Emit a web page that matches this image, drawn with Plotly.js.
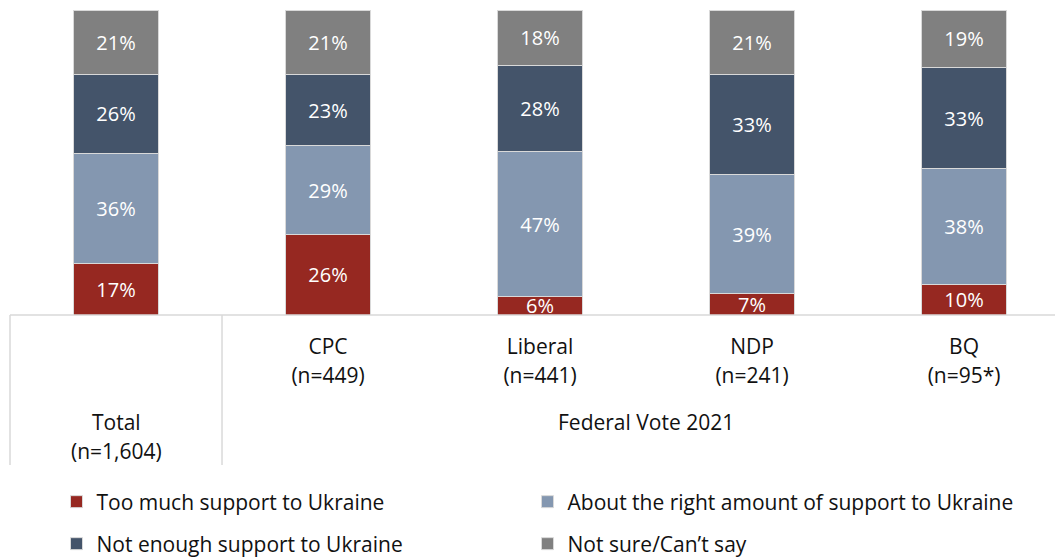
<!DOCTYPE html>
<html>
<head>
<meta charset="utf-8">
<script src="https://cdn.plot.ly/plotly-3.0.1.min.js"></script>
<style>html,body{margin:0;padding:0;background:#fff;}</style>
</head>
<body>
<div id="chart" style="width:1055px;height:558px;"></div>
<script>
// ---- data ----
const categories = ["Total", "CPC", "Liberal", "NDP", "BQ"];
const sampleSizes = ["(n=1,604)", "(n=449)", "(n=441)", "(n=241)", "(n=95*)"];
const groupLabel = "Federal Vote 2021";
const seriesNames = [
  "Too much support to Ukraine",
  "About the right amount of support to Ukraine",
  "Not enough support to Ukraine",
  "Not sure/Can\u2019t say"
];
const tooMuch   = [17, 26, 6, 7, 10];
const aboutRight = [36, 29, 47, 39, 38];
const notEnough = [26, 23, 28, 33, 33];
const notSure   = [21, 21, 18, 21, 19];
const seriesValues = [tooMuch, aboutRight, notEnough, notSure];
const seriesColors = ["#962821", "#8497B0", "#44546A", "#808080"];

const FONT = "'Open Sans', 'Noto Sans', sans-serif";
const TXT = "#111111";
const FS = 21;
const xIdx = categories.map((c, i) => i);
const legendIds = ["legend", "legend2", "legend3", "legend4"];

const traces = seriesValues.map((vals, k) => ({
  type: "bar",
  name: seriesNames[k],
  x: xIdx,
  y: vals,
  text: vals.map(v => v + "%"),
  textposition: "inside",
  insidetextanchor: "middle",
  constraintext: "none",
  textfont: {family: FONT, size: 20, color: "#ffffff"},
  marker: {color: seriesColors[k], line: {color: "#d9d9d9", width: 1}},
  legend: legendIds[k],
  hoverinfo: "skip"
}));
// empty helper trace so the second (sample-size) label axis is drawn
traces.push({type: "scatter", x: [], y: [], xaxis: "x2", yaxis: "y",
  showlegend: false, hoverinfo: "skip"});

const xr = [-0.5, 4.429];
const toPaper = v => (v - xr[0]) / (xr[1] - xr[0]);
const plotH = 558 - 10 - 243;
const pyPix = p => -(p - 315) / plotH; // pixel y -> paper y

const axisCommon = {
  range: xr, tickmode: "array", tickvals: xIdx.slice(1),
  showgrid: false, zeroline: false, showline: false, ticks: "",
  tickfont: {family: FONT, size: FS, color: TXT}, fixedrange: true
};

const legendCommon = {
  orientation: "h", xref: "container", yref: "container",
  xanchor: "left", yanchor: "middle",
  font: {family: FONT, size: FS, color: TXT},
  bgcolor: "rgba(0,0,0,0)"
};
const colX = [56.5, 527.5];
const rowY = [502, 544];

const layout = {
  width: 1055, height: 558,
  margin: {l: 10, r: 0, t: 10, b: 243},
  barmode: "stack",
  barnorm: "percent",
  bargap: 0.6,
  plot_bgcolor: "#fff", paper_bgcolor: "#fff",
  font: {family: FONT, size: FS, color: TXT},
  xaxis: Object.assign({}, axisCommon, {
    ticktext: categories.slice(1), ticklabelstandoff: 17
  }),
  xaxis2: Object.assign({}, axisCommon, {
    overlaying: "x", anchor: "y", side: "bottom",
    ticktext: sampleSizes.slice(1), ticklabelstandoff: 46
  }),
  yaxis: {range: [0, 100], visible: false, fixedrange: true},
  showlegend: true,
  shapes: [
    {type: "line", xref: "paper", yref: "paper", x0: 0, x1: 1, y0: 0, y1: 0,
     line: {color: "#d9d9d9", width: 1.5}},
    {type: "line", xref: "paper", yref: "paper", x0: toPaper(-0.5), x1: toPaper(-0.5), y0: 0, y1: pyPix(465),
     line: {color: "#d9d9d9", width: 1.5}},
    {type: "line", xref: "paper", yref: "paper", x0: toPaper(0.5), x1: toPaper(0.5), y0: 0, y1: pyPix(465),
     line: {color: "#d9d9d9", width: 1.5}}
  ],
  annotations: [
    {xref: "x", yref: "paper", x: 0, y: pyPix(422), text: categories[0], showarrow: false,
     yanchor: "middle", font: {family: FONT, size: FS, color: TXT}},
    {xref: "x", yref: "paper", x: 0, y: pyPix(451), text: sampleSizes[0], showarrow: false,
     yanchor: "middle", font: {family: FONT, size: FS, color: TXT}},
    {xref: "x", yref: "paper", x: 2.5, y: pyPix(422), text: groupLabel, showarrow: false,
     yanchor: "middle", font: {family: FONT, size: FS, color: TXT}}
  ]
};
legendIds.forEach((id, k) => {
  layout[id] = Object.assign({}, legendCommon, {
    x: colX[k % 2] / 1055,
    y: 1 - rowY[Math.floor(k / 2)] / 558
  });
});

Plotly.newPlot("chart", traces, layout, {displayModeBar: false, staticPlot: true});
</script>
</body>
</html>
